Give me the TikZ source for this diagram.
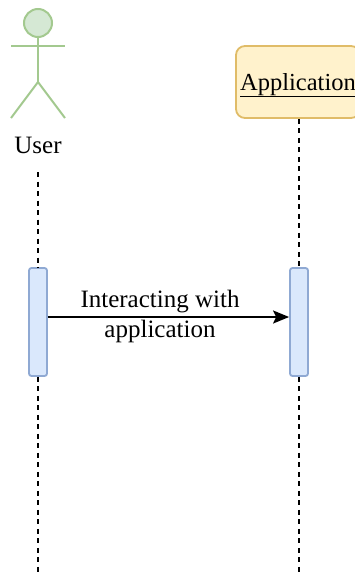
\documentclass[tikz,border=0pt]{standalone}
\usepackage{fontspec}
\usetikzlibrary{arrows.meta}
\setmainfont{Liberation Serif}
\definecolor{actorfill}{HTML}{D5E8D4}
\definecolor{actorline}{HTML}{A3C98F}
\definecolor{appfill}{HTML}{FFF2CC}
\definecolor{appline}{HTML}{E0BC68}
\definecolor{barfill}{HTML}{DAE8FC}
\definecolor{barline}{HTML}{8FA9D3}
\tikzset{
  limb/.style={draw=actorline,line width=2pt},
  lifeline/.style={draw=black,line width=1.6pt,dash pattern=on 5pt off 4.5pt},
  activation/.style={draw=barline,fill=barfill,line width=1.8pt,rounded corners=2.5pt,minimum width=18pt,minimum height=108pt,inner sep=0pt},
  msg/.style={font=\fontsize{25}{30}\selectfont,align=center,inner sep=0pt}
}
\begin{document}
\begin{tikzpicture}[x=1pt,y=-1pt]
\useasboundingbox (0,0) rectangle (355,576);
            % Actor
\node[circle,draw=actorline,fill=actorfill,line width=2pt,minimum size=28pt,inner sep=0pt] (head) at (38,23) {};
\coordinate (lefthand) at (11,46);
\coordinate (righthand) at (65,46);
\coordinate (hip) at (38,82);
\coordinate (leftfoot) at (11,118);
\coordinate (rightfoot) at (65,118);
\draw[limb] (head) -- (hip);
\draw[limb] (lefthand) -- (righthand);
\draw[limb] (leftfoot) -- (hip) -- (rightfoot);
\node[msg] (user) at (38,145) {User};
            % Application
\node[draw=appline,fill=appfill,line width=1.8pt,rounded corners=9pt,minimum width=124pt,minimum height=72pt,inner sep=0pt,font=\fontsize{24.5}{30}\selectfont] (app) at (298,82) {\raisebox{-8pt}[0pt][0pt]{\underline{Application}}};
            % Activations
\node[activation] (userbar) at (38,322) {};
\node[activation] (appbar) at (299,322) {};
\coordinate (usertop) at (38,172);
\coordinate (userend) at (38,576);
\coordinate (append) at (299,576);
%Lifelines
\draw[lifeline] (usertop) -- (userbar.north);
\draw[lifeline] (userbar.south) -- (userend);
\draw[lifeline] (app.south -| appbar) -- (appbar.north);
\draw[lifeline] (appbar.south) -- (append);
%Message
\draw[-{Stealth[length=16pt,width=13pt,inset=3pt]},line width=1.7pt] (userbar.east |- 0,317) -- (appbar.west |- 0,317);
\node[msg] (label) at (160,316) {Interacting with\\application};
\end{tikzpicture}
\end{document}
